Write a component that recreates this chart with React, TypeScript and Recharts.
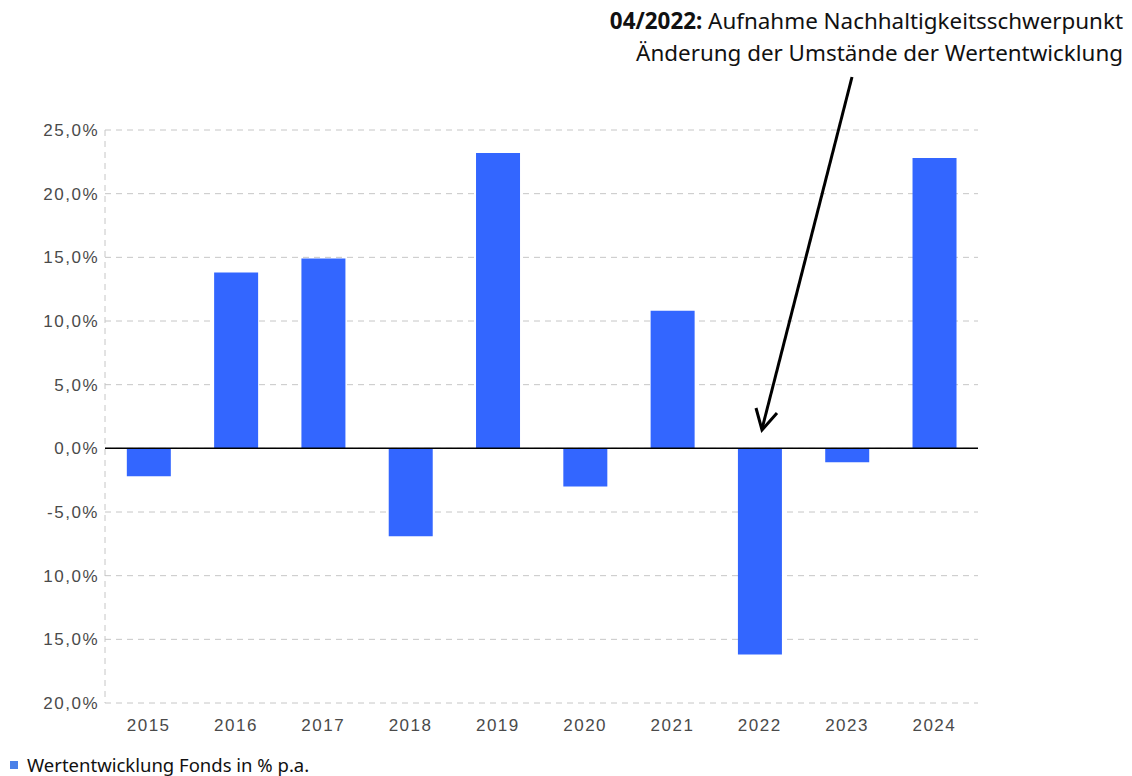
import React from 'react';
import { BarChart, Bar, XAxis, YAxis, CartesianGrid, ReferenceLine } from 'recharts';

const years = ['2015', '2016', '2017', '2018', '2019', '2020', '2021', '2022', '2023', '2024'];
const performance = [-2.2, 13.8, 14.9, -6.9, 23.2, -3.0, 10.8, -16.2, -1.1, 22.8];
const tickValues = [-20, -15, -10, -5, 0, 5, 10, 15, 20, 25];
const tickLabels = ['20,0%', '15,0%', '10,0%', '-5,0%', '0,0%', '5,0%', '10,0%', '15,0%', '20,0%', '25,0%'];
const legendLabel = 'Wertentwicklung Fonds in % p.a.';
const noteBold = '04/2022:';
const noteLine1 = ' Aufnahme Nachhaltigkeitsschwerpunkt';
const noteLine2 = 'Änderung der Umstände der Wertentwicklung';

const data = years.map((y, i) => ({ year: y, value: performance[i] }));

const tickFont = { fontFamily: '"Liberation Sans", Arial, sans-serif', fontSize: 17, fill: '#4a4a4a', letterSpacing: 1.5 };

export default function App() {
  return (
    <div style={{ position: 'absolute', left: 0, top: 0, width: 1132, height: 776, background: '#fff' }}>
      <BarChart
        width={1132}
        height={776}
        data={data}
        margin={{ top: 130, right: 154, bottom: 43, left: 0 }}
        barCategoryGap="25%"
      >
        <CartesianGrid vertical={false} stroke="#c6c6c6" strokeDasharray="6 5" />
        <XAxis
          dataKey="year"
          axisLine={false}
          tickLine={false}
          height={30}
          tickMargin={10}
          tick={tickFont}
          interval={0}
        />
        <YAxis
          domain={[-20, 25]}
          ticks={tickValues}
          width={105}
          tickLine={false}
          tickMargin={0}
          axisLine={{ stroke: '#c6c6c6', strokeDasharray: '6 5' }}
          tick={tickFont}
          tickFormatter={(v: number) => tickLabels[tickValues.indexOf(v)]}
          interval={0}
        />
        <ReferenceLine y={0} stroke="#000" strokeWidth={1.5} />
        <Bar dataKey="value" fill="#3366ff" isAnimationActive={false} />
      </BarChart>
      <svg width={1132} height={776} style={{ position: 'absolute', left: 0, top: 0, pointerEvents: 'none' }}>
        <text x={1123} y={29} textAnchor="end" fontFamily='"Noto Sans", sans-serif' fontSize={22.4} fill="#111">
          <tspan fontWeight="bold">{noteBold}</tspan>
          <tspan>{noteLine1}</tspan>
        </text>
        <text x={1123} y={61} textAnchor="end" fontFamily='"Noto Sans", sans-serif' fontSize={22.4} fill="#111">
          {noteLine2}
        </text>
        <line x1={852} y1={77} x2={762} y2={429} stroke="#000" strokeWidth={3} />
        <polyline points="756,408 762,430 777,413" fill="none" stroke="#000" strokeWidth={3} strokeLinejoin="miter" />
      </svg>
      <div style={{ position: 'absolute', left: 10, top: 755, height: 20, lineHeight: '20px', display: 'flex', alignItems: 'center', fontFamily: '"Noto Sans", sans-serif', fontSize: 18.5, color: '#111', whiteSpace: 'nowrap' }}>
        <span style={{ display: 'inline-block', width: 8, height: 8, background: '#4a80e8', marginRight: 9 }} />
        <span>{legendLabel}</span>
      </div>
    </div>
  );
}
